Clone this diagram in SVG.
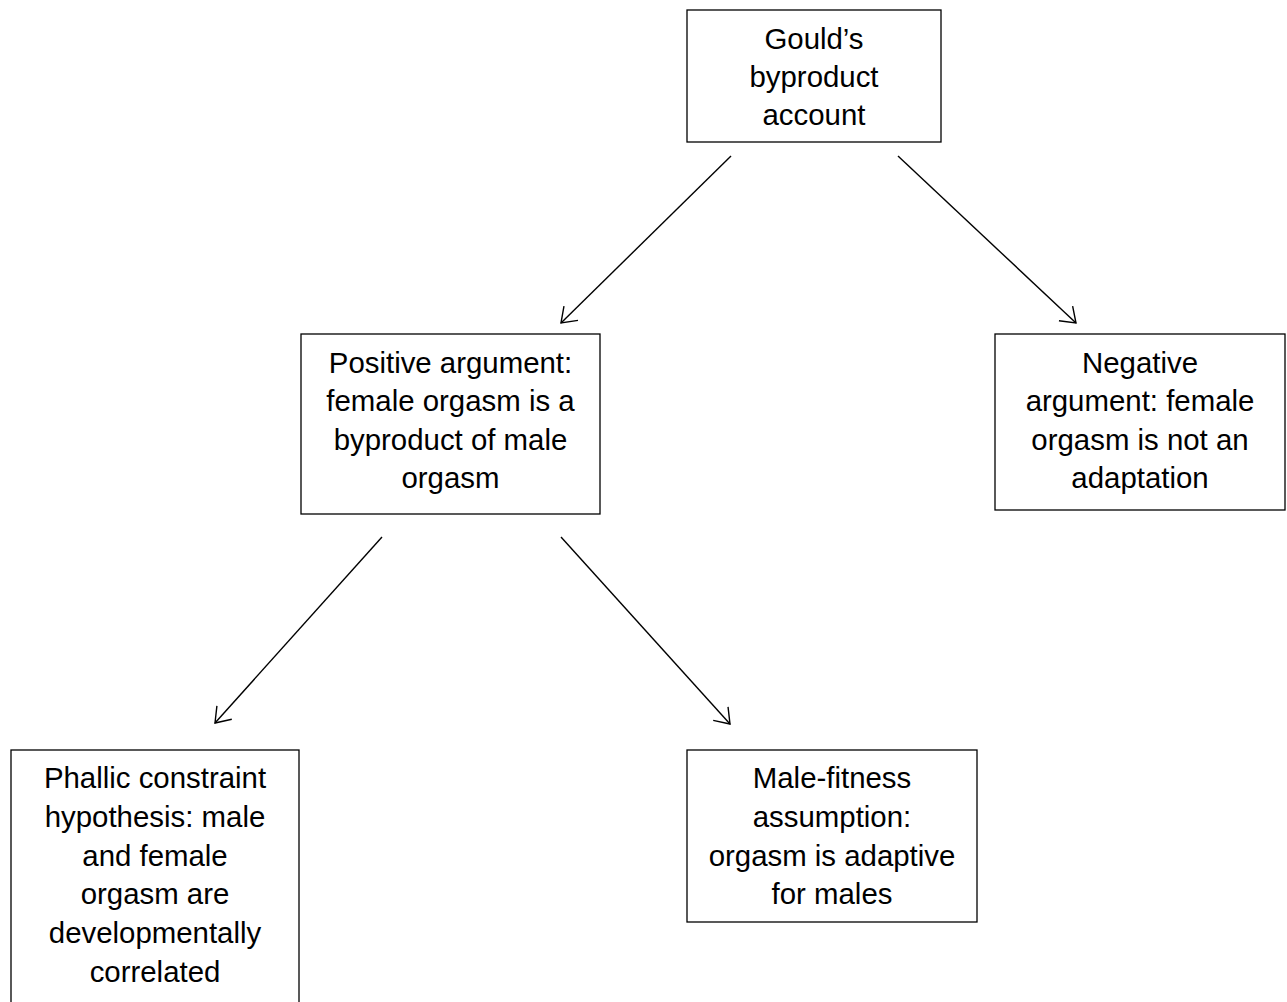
<svg xmlns="http://www.w3.org/2000/svg" width="1287" height="1002" viewBox="0 0 1287 1002">
<style>
.box{fill:#fff;stroke:#000;stroke-width:1.3}
.t{font-family:"Liberation Sans",Arial,sans-serif;font-size:29.4px;fill:#000;text-anchor:middle}
.edge{stroke:#000;stroke-width:1.4;fill:none;marker-end:url(#arr)}
</style>
<defs>
<marker id="arr" markerUnits="userSpaceOnUse" markerWidth="30" markerHeight="30" refX="0" refY="0" viewBox="-20 -15 30 30" orient="auto" overflow="visible">
<path d="M-14,-10 L0,0 L-14,10" fill="none" stroke="#000" stroke-width="1.4"/>
</marker>
</defs>
<rect width="1287" height="1002" fill="#fff"/>
<g id="connectors">
<line class="edge" x1="731" y1="156" x2="561" y2="323"/>
<line class="edge" x1="898" y1="156" x2="1076" y2="323"/>
<line class="edge" x1="382" y1="537" x2="215" y2="723"/>
<line class="edge" x1="561" y1="537" x2="730" y2="724"/>
</g>
<g id="gould">
<rect class="box" x="687" y="10" width="254" height="132"/>
<text class="t"><tspan x="814" y="48.5">Gould’s</tspan><tspan x="814" y="87">byproduct</tspan><tspan x="814" y="125">account</tspan></text>
</g>
<g id="positive">
<rect class="box" x="301" y="334" width="299" height="180"/>
<text class="t"><tspan x="450.5" y="372.5">Positive argument:</tspan><tspan x="450.5" y="411">female orgasm is a</tspan><tspan x="450.5" y="449.5">byproduct of male</tspan><tspan x="450.5" y="488">orgasm</tspan></text>
</g>
<g id="negative">
<rect class="box" x="995" y="334" width="290" height="176"/>
<text class="t"><tspan x="1140" y="372.5">Negative</tspan><tspan x="1140" y="411">argument: female</tspan><tspan x="1140" y="449.5">orgasm is not an</tspan><tspan x="1140" y="488">adaptation</tspan></text>
</g>
<g id="phallic">
<rect class="box" x="11" y="750" width="288" height="270"/>
<text class="t"><tspan x="155" y="788">Phallic constraint</tspan><tspan x="155" y="826.8">hypothesis: male</tspan><tspan x="155" y="865.6">and female</tspan><tspan x="155" y="904.4">orgasm are</tspan><tspan x="155" y="943.2">developmentally</tspan><tspan x="155" y="982">correlated</tspan></text>
</g>
<g id="malefitness">
<rect class="box" x="687" y="750" width="290" height="172"/>
<text class="t"><tspan x="832" y="788">Male-fitness</tspan><tspan x="832" y="826.8">assumption:</tspan><tspan x="832" y="865.6">orgasm is adaptive</tspan><tspan x="832" y="904.4">for males</tspan></text>
</g>
</svg>
